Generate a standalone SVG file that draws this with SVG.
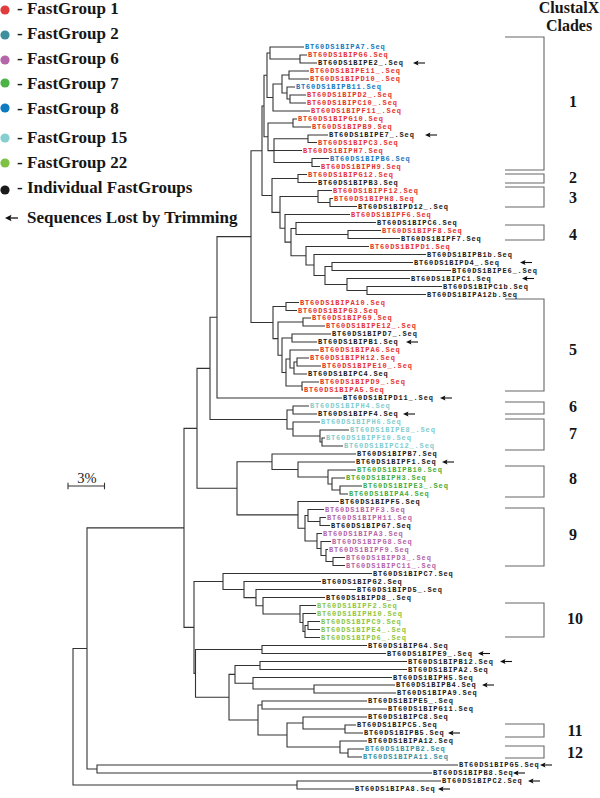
<svg xmlns="http://www.w3.org/2000/svg" xmlns:xlink="http://www.w3.org/1999/xlink" width="600" height="798" viewBox="0 0 600 798">
<style>
.t{font-family:"Liberation Mono","DejaVu Sans Mono",monospace;font-size:7px;letter-spacing:0.84px;font-weight:bold}
.k{fill:#1a1a1a}.r{fill:#e8322e}.b{fill:#1479c4}.c{fill:#7fcdd0}.g{fill:#45ad40}.y{fill:#8cc63e}.p{fill:#b564a8}.tl{fill:#3a90a0}
.lg{font-family:"Liberation Serif",serif;font-size:17px;font-weight:bold;fill:#161616}
.hd{font-family:"Liberation Serif",serif;font-size:16px;font-weight:bold;fill:#161616;text-anchor:middle}
.tree{fill:none;stroke:#333;stroke-width:1.1}
.br{fill:none;stroke:#666;stroke-width:1.1}
</style>
<defs>
<g id="ar"><path d="M0,0L5.5,-2.6L4.5,0L5.5,2.6Z" fill="#111"/><path d="M3,0H12" stroke="#111" stroke-width="1.1"/></g>
</defs>
<rect width="600" height="798" fill="#fff"/>
<g id="legend">
<circle cx="5" cy="10" r="4.6" fill="#e23b3b"/><text class="lg" x="17" y="13.5">- FastGroup 1</text>
<circle cx="5" cy="35" r="4.6" fill="#3d8f9e"/><text class="lg" x="17" y="39.3">- FastGroup 2</text>
<circle cx="5" cy="60" r="4.6" fill="#b566a8"/><text class="lg" x="17" y="64.3">- FastGroup 6</text>
<circle cx="5" cy="83" r="4.6" fill="#4cb447"/><text class="lg" x="17" y="89.3">- FastGroup 7</text>
<circle cx="5" cy="108" r="4.6" fill="#0d7ac2"/><text class="lg" x="17" y="114.3">- FastGroup 8</text>
<circle cx="5" cy="138" r="4.6" fill="#86cfd0"/><text class="lg" x="17" y="142.7">- FastGroup 15</text>
<circle cx="5" cy="163" r="4.6" fill="#7dc242"/><text class="lg" x="17" y="167.7">- FastGroup 22</text>
<circle cx="5" cy="190" r="4.6" fill="#1a1a1a"/><text class="lg" x="17" y="193.3">- Individual FastGroups</text>
<g transform="translate(5,218)"><path d="M0,0L6.5,-3.2L5.3,0L6.5,3.2Z" fill="#111"/><path d="M4,0H13" stroke="#111" stroke-width="1.3"/></g>
<text class="lg" x="27" y="223.3">Sequences Lost by Trimming</text>
</g>
<g id="header"><text class="hd" x="569" y="13">ClustalX</text><text class="hd" x="569" y="31">Clades</text></g>
<g id="scale"><path d="M68,486H104.5M68,482.7V489.3M104.5,482.7V489.3" stroke="#333" stroke-width="1.1" fill="none"/><text x="87" y="483" font-family="Liberation Serif,serif" font-size="14.5" text-anchor="middle" fill="#222">3%</text></g>
<g id="connectors">
<path class="tree" d="
M300,59V55H307M300,59V63H317
M270,53V47H304M270,53V59H300
M289,75V71H309M289,75V79H309
M290,99V95H306M290,99V103H306
M287,93V87H295M287,93V99H290
M282,84V75H289M282,84V93H287
M273,97.5V84H282M273,97.5V111H310
M267,75.25V53H270M267,75.25V97.5H273
M293,123V119H297M293,123V127H311
M308,138.75V135H328M308,138.75V142.5H317
M312,162.5V158.5H329M312,162.5V166.5H320
M274,150.6V138.75H308M274,150.6V150.5H302M274,150.6V162.5H312
M268,136.8V123H293M268,136.8V150.6H274
M264,106V75.25H267M264,106V136.8H268
M298,178.5V174.5H307M298,178.5V182.5H317
M330,202.5V198.5H333M330,202.5V206.5H357
M318,196.5V190.5H332M318,196.5V202.5H330
M348,234.5V230.5H381M348,234.5V238.5H400
M296,228.5V222.5H376M296,228.5V234.5H348
M367,290.5V286.5H442M367,290.5V294.5H426
M347,284.5V278.5H410M347,284.5V290.5H367
M332,266.5V262.5H413M332,266.5V270.5H451
M325,275.5V266.5H332M325,275.5V284.5H347
M314,265V254.5H426M314,265V275.5H325
M306,255.75V246.5H369M306,255.75V265H314
M291,242.1V228.5H296M291,242.1V255.75H306
M285,228.3V214.5H350M285,228.3V242.1H291
M280,212.4V196.5H318M280,212.4V228.3H285
M272,195.45V178.5H298M272,195.45V212.4H280
M262,150.7V106H264M262,150.7V195.45H272
M286,306.5V302.5H299M286,306.5V310.5H297
M303,322V318H311M303,322V326H325
M292,338V334H331M292,338V342H317
M297,362V358H309M297,362V366H321
M294,368V362H297M294,368V374H307
M290,359V350H319M290,359V368H294
M302,386V382H319M302,386V390H303
M286,372.5V359H290M286,372.5V386H302
M282,355.25V338H292M282,355.25V372.5H286
M278,338.6V322H303M278,338.6V355.25H282
M273,322.55V306.5H286M273,322.55V338.6H278
M251,236.6V150.7H262M251,236.6V322.55H273
M217,317.3V236.6H251M217,317.3V398H342
M293,410V406H309M293,410V414H317
M322,442V438H325M322,442V446H343
M320,436V430H349M320,436V442H322
M293,429V422H320M293,429V436H320
M287,419.5V410H293M287,419.5V429H293
M210,368.4V317.3H217M210,368.4V419.5H287
M340,490V486H362M340,490V494H348
M332,484V478H345M332,484V490H340
M328,477V470H356M328,477V484H332
M298,469.5V462H355M298,469.5V477H328
M272,461.75V454H356M272,461.75V469.5H298
M320,521.5V517.5H326M320,521.5V525.5H330
M308,515.5V509.5H324M308,515.5V521.5H320
M333,561.5V557.5H345M333,561.5V565.5H345
M326,555.5V549.5H328M326,555.5V561.5H333
M321,548.5V541.5H331M321,548.5V555.5H326
M317,541V533.5H322M317,541V548.5H321
M305,528.25V515.5H308M305,528.25V541H317
M298,514.9V501.5H339M298,514.9V528.25H305
M237,488.3V461.75H272M237,488.3V514.9H298
M197,428.35V368.4H210M197,428.35V488.3H237
M308,625.5V621.5H320M308,625.5V629.5H320
M305,631.5V625.5H308M305,631.5V637.5H320
M303,622.5V613.5H316M303,622.5V631.5H305
M300,614V605.5H316M300,614V622.5H303
M263,605.75V597.5H325M263,605.75V614H300
M256,597.6V589.5H356M256,597.6V605.75H263
M244,589.55V581.5H321M244,589.55V597.6H256
M223,581.5V573.5H372M223,581.5V589.55H244
M262,649.5V645.5H367M262,649.5V653.5H386
M260,665.5V661.5H407M260,665.5V669.5H407
M314,689V685H395M314,689V693H396
M253,683.25V677.5H392M253,683.25V689H314
M235,674.4V665.5H260M235,674.4V683.25H253
M262,705V701H367M262,705V709H387
M345,729V725H356M345,729V733H363
M303,723V717H367M303,723V729H345
M348,753V749H364M348,753V757H362
M340,747V741H367M340,747V753H348
M287,735V723H303M287,735V747H340
M258,720V705H262M258,720V735H287
M229,697.2V674.4H235M229,697.2V720H258
M195.5,673.35V649.5H262M195.5,673.35V697.2H229
M194,627.4V581.5H223M194,627.4V673.35H195.5
M184,527.9V428.35H197M184,527.9V627.4H194
M97,769V765H458M97,769V773H432
M87,648.45V527.9H184M87,648.45V769H97
M297,785V781H441M297,785V789H354
M73,716.7V648.45H87M73,716.7V785H297"/>
</g>
<g id="clades">
<path class="br" d="M505,37H544V170H505M505,174H544V183H505M505,187H544V207H505M505,225H544V240H505M505,299H544V391H505M505,402H544V414H505M505,419H544V450H505M505,466H544V497H505M505,508H544V566H505M505,603H544V637H505M505,724H544V737H505M505,746H544V758H505"/>
<text class="hd" x="573" y="107">1</text><text class="hd" x="573" y="183">2</text><text class="hd" x="573" y="203">3</text><text class="hd" x="573" y="240">4</text><text class="hd" x="573" y="355">5</text><text class="hd" x="573" y="412">6</text><text class="hd" x="573" y="439">7</text><text class="hd" x="573" y="484">8</text><text class="hd" x="573" y="540">9</text><text class="hd" x="575" y="624">10</text><text class="hd" x="575" y="736">11</text><text class="hd" x="575" y="758">12</text>
</g>
<g id="arrows">
<use xlink:href="#ar" x="413" y="63"/><use xlink:href="#ar" x="425" y="135"/><use xlink:href="#ar" x="520" y="262.5"/><use xlink:href="#ar" x="522" y="278.5"/><use xlink:href="#ar" x="406" y="342"/><use xlink:href="#ar" x="440" y="398"/><use xlink:href="#ar" x="403" y="414"/><use xlink:href="#ar" x="442" y="462"/><use xlink:href="#ar" x="478" y="653.5"/><use xlink:href="#ar" x="500" y="661.5"/><use xlink:href="#ar" x="482" y="685"/><use xlink:href="#ar" x="448" y="733"/><use xlink:href="#ar" x="540" y="765"/><use xlink:href="#ar" x="513" y="773"/><use xlink:href="#ar" x="528" y="781"/><use xlink:href="#ar" x="438" y="789"/>
</g>
<g id="leaves" class="t" transform="translate(0,-0.6)">
<text id="PA7" class="b" x="305" y="50">BT60DS1BIPA7.Seq</text>
<text id="PG6" class="r" x="308" y="58">BT60DS1BIPG6.Seq</text>
<text id="PE2" class="k" x="318" y="66">BT60DS1BIPE2_.Seq</text>
<text id="PE11" class="r" x="310" y="74">BT60DS1BIPE11_.Seq</text>
<text id="PD10" class="r" x="310" y="82">BT60DS1BIPD10_.Seq</text>
<text id="PB11" class="b" x="296" y="90">BT60DS1BIPB11.Seq</text>
<text id="PD2" class="r" x="307" y="98">BT60DS1BIPD2_.Seq</text>
<text id="PC10" class="r" x="307" y="106">BT60DS1BIPC10_.Seq</text>
<text id="PF11" class="r" x="311" y="114">BT60DS1BIPF11_.Seq</text>
<text id="PG10" class="r" x="298" y="122">BT60DS1BIPG10.Seq</text>
<text id="PB9" class="r" x="312" y="130">BT60DS1BIPB9.Seq</text>
<text id="PE7" class="k" x="329" y="138">BT60DS1BIPE7_.Seq</text>
<text id="PC3" class="r" x="318" y="145.5">BT60DS1BIPC3.Seq</text>
<text id="PH7" class="r" x="303" y="153.5">BT60DS1BIPH7.Seq</text>
<text id="PB6" class="b" x="330" y="161.5">BT60DS1BIPB6.Seq</text>
<text id="PH9" class="r" x="321" y="169.5">BT60DS1BIPH9.Seq</text>
<text id="PG12" class="r" x="308" y="177.5">BT60DS1BIPG12.Seq</text>
<text id="PB3" class="k" x="318" y="185.5">BT60DS1BIPB3.Seq</text>
<text id="PF12" class="r" x="333" y="193.5">BT60DS1BIPF12.Seq</text>
<text id="PH8" class="r" x="334" y="201.5">BT60DS1BIPH8.Seq</text>
<text id="PD12" class="k" x="358" y="209.5">BT60DS1BIPD12_.Seq</text>
<text id="PF6" class="r" x="351" y="217.5">BT60DS1BIPF6.Seq</text>
<text id="PC6" class="k" x="377" y="225.5">BT60DS1BIPC6.Seq</text>
<text id="PF8" class="r" x="382" y="233.5">BT60DS1BIPF8.Seq</text>
<text id="PF7" class="k" x="401" y="241.5">BT60DS1BIPF7.Seq</text>
<text id="PD1" class="r" x="370" y="249.5">BT60DS1BIPD1.Seq</text>
<text id="PB1b" class="k" x="427" y="257.5">BT60DS1BIPB1b.Seq</text>
<text id="PD4" class="k" x="414" y="265.5">BT60DS1BIPD4_.Seq</text>
<text id="PE6" class="k" x="452" y="273.5">BT60DS1BIPE6_.Seq</text>
<text id="PC1" class="k" x="411" y="281.5">BT60DS1BIPC1.Seq</text>
<text id="PC1b" class="k" x="443" y="289.5">BT60DS1BIPC1b.Seq</text>
<text id="PA12b" class="k" x="427" y="297.5">BT60DS1BIPA12b.Seq</text>
<text id="PA10" class="r" x="300" y="305.5">BT60DS1BIPA10.Seq</text>
<text id="PG3" class="r" x="298" y="313.5">BT60DS1BIPG3.Seq</text>
<text id="PG9" class="r" x="312" y="321">BT60DS1BIPG9.Seq</text>
<text id="PE12" class="r" x="326" y="329">BT60DS1BIPE12_.Seq</text>
<text id="PD7" class="k" x="332" y="337">BT60DS1BIPD7_.Seq</text>
<text id="PB1" class="k" x="318" y="345">BT60DS1BIPB1.Seq</text>
<text id="PA6" class="r" x="320" y="353">BT60DS1BIPA6.Seq</text>
<text id="PH12" class="r" x="310" y="361">BT60DS1BIPH12.Seq</text>
<text id="PE10" class="r" x="322" y="369">BT60DS1BIPE10_.Seq</text>
<text id="PC4" class="k" x="308" y="377">BT60DS1BIPC4.Seq</text>
<text id="PD9" class="r" x="320" y="385">BT60DS1BIPD9_.Seq</text>
<text id="PA5" class="r" x="304" y="393">BT60DS1BIPA5.Seq</text>
<text id="PD11" class="k" x="343" y="401">BT60DS1BIPD11_.Seq</text>
<text id="PH4" class="c" x="310" y="409">BT60DS1BIPH4.Seq</text>
<text id="PF4" class="k" x="318" y="417">BT60DS1BIPF4.Seq</text>
<text id="PH6" class="c" x="321" y="425">BT60DS1BIPH6.Seq</text>
<text id="PE8" class="c" x="350" y="433">BT60DS1BIPE8_.Seq</text>
<text id="PF10" class="c" x="326" y="441">BT60DS1BIPF10.Seq</text>
<text id="PC12" class="c" x="344" y="449">BT60DS1BIPC12_.Seq</text>
<text id="PB7" class="k" x="357" y="457">BT60DS1BIPB7.Seq</text>
<text id="PF1" class="k" x="356" y="465">BT60DS1BIPF1.Seq</text>
<text id="PB10" class="g" x="357" y="473">BT60DS1BIPB10.Seq</text>
<text id="PH3" class="g" x="346" y="481">BT60DS1BIPH3.Seq</text>
<text id="PE3" class="g" x="363" y="489">BT60DS1BIPE3_.Seq</text>
<text id="PA4" class="g" x="349" y="497">BT60DS1BIPA4.Seq</text>
<text id="PF5" class="k" x="340" y="504.5">BT60DS1BIPF5.Seq</text>
<text id="PF3" class="p" x="325" y="512.5">BT60DS1BIPF3.Seq</text>
<text id="PH11" class="p" x="327" y="520.5">BT60DS1BIPH11.Seq</text>
<text id="PG7" class="k" x="331" y="528.5">BT60DS1BIPG7.Seq</text>
<text id="PA3" class="p" x="323" y="536.5">BT60DS1BIPA3.Seq</text>
<text id="PG8" class="p" x="332" y="544.5">BT60DS1BIPG8.Seq</text>
<text id="PF9" class="p" x="329" y="552.5">BT60DS1BIPF9.Seq</text>
<text id="PD3" class="p" x="346" y="560.5">BT60DS1BIPD3_.Seq</text>
<text id="PC11" class="p" x="346" y="568.5">BT60DS1BIPC11_.Seq</text>
<text id="PC7" class="k" x="373" y="576.5">BT60DS1BIPC7.Seq</text>
<text id="PG2" class="k" x="322" y="584.5">BT60DS1BIPG2.Seq</text>
<text id="PD5" class="k" x="357" y="592.5">BT60DS1BIPD5_.Seq</text>
<text id="PD8" class="k" x="326" y="600.5">BT60DS1BIPD8_.Seq</text>
<text id="PF2" class="y" x="317" y="608.5">BT60DS1BIPF2.Seq</text>
<text id="PH10" class="y" x="317" y="616.5">BT60DS1BIPH10.Seq</text>
<text id="PC9" class="y" x="321" y="624.5">BT60DS1BIPC9.Seq</text>
<text id="PE4" class="y" x="321" y="632.5">BT60DS1BIPE4_.Seq</text>
<text id="PD6" class="y" x="321" y="640.5">BT60DS1BIPD6_.Seq</text>
<text id="PG4" class="k" x="368" y="648.5">BT60DS1BIPG4.Seq</text>
<text id="PE9" class="k" x="387" y="656.5">BT60DS1BIPE9_.Seq</text>
<text id="PB12" class="k" x="408" y="664.5">BT60DS1BIPB12.Seq</text>
<text id="PA2" class="k" x="408" y="672.5">BT60DS1BIPA2.Seq</text>
<text id="PH5" class="k" x="393" y="680.5">BT60DS1BIPH5.Seq</text>
<text id="PB4" class="k" x="396" y="688">BT60DS1BIPB4.Seq</text>
<text id="PA9" class="k" x="397" y="696">BT60DS1BIPA9.Seq</text>
<text id="PE5" class="k" x="368" y="704">BT60DS1BIPE5_.Seq</text>
<text id="PG11" class="k" x="388" y="712">BT60DS1BIPG11.Seq</text>
<text id="PC8" class="k" x="368" y="720">BT60DS1BIPC8.Seq</text>
<text id="PC5" class="k" x="357" y="728">BT60DS1BIPC5.Seq</text>
<text id="PB5" class="k" x="364" y="736">BT60DS1BIPB5.Seq</text>
<text id="PA12" class="k" x="368" y="744">BT60DS1BIPA12.Seq</text>
<text id="PB2" class="tl" x="365" y="752">BT60DS1BIPB2.Seq</text>
<text id="PA11" class="tl" x="363" y="760">BT60DS1BIPA11.Seq</text>
<text id="PG5" class="k" x="459" y="768">BT60DS1BIPG5.Seq</text>
<text id="PB8" class="k" x="433" y="776">BT60DS1BIPB8.Seq</text>
<text id="PC2" class="k" x="442" y="784">BT60DS1BIPC2.Seq</text>
<text id="PA8" class="k" x="355" y="792">BT60DS1BIPA8.Seq</text>
</g>
</svg>
